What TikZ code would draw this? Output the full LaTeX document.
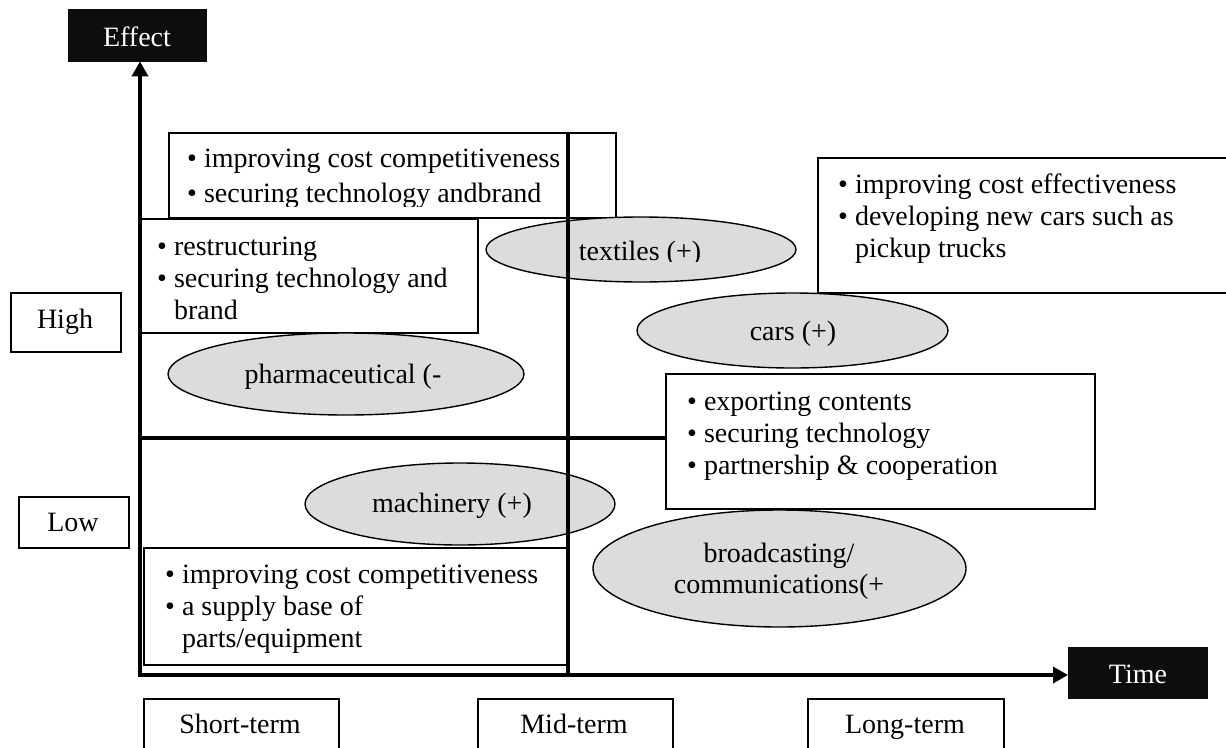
\documentclass[tikz,border=0pt]{standalone}
\usepackage{fontspec}
\setmainfont{Liberation Serif}
\usetikzlibrary{shapes.geometric,arrows.meta}
\definecolor{blackish}{HTML}{0D0D0D}
\definecolor{ellgray}{HTML}{DCDCDC}
\newcommand\blist[1]{\begin{tabular}[t]{@{}l@{\hspace{7pt}}l@{}}#1\end{tabular}}
\begin{document}
\begin{tikzpicture}[x=1pt,y=-1pt,
  font=\fontsize{28}{32}\selectfont,
  box/.style={draw, line width=1.6pt, fill=white, inner sep=0pt, anchor=north west},
  blk/.style={fill=blackish, draw=blackish, inner sep=0pt, anchor=north west},
  ell/.style={ellipse, draw, line width=1.4pt, fill=ellgray, inner sep=0pt},
  txt/.style={anchor=base west, inner sep=0pt},
  lbl/.style={anchor=base, inner sep=0pt},
  axisline/.style={line width=3.5pt, -{Triangle[length=15pt,width=16pt]}},
  bar/.style={line width=3.5pt}]
\useasboundingbox (0,0) rectangle (1226,747);

% --- axis end labels
\node[blk, minimum width=138, minimum height=52] (effect) at (68,9) {};
\node[lbl, text=white] at (137,46) {Effect};
\node[blk, minimum width=139, minimum height=51] (time) at (1068,647) {};
\node[lbl, text=white] at (1138,683) {Time};

% --- top box (text clipped)
\node[box, minimum width=447, minimum height=85] (topbox) at (168,132) {};
\begin{scope}
\clip (168,132) rectangle (566,206);
\node[txt] (toptext) at (187,167) {\blist{\textbullet & improving cost competitiveness\\[3pt] \textbullet & securing technology andbrand}};
\end{scope}

% --- restructuring box
\node[box, minimum width=337, minimum height=114] (restr) at (140,218) {};
\node[txt] at (157,255) {\blist{\textbullet & restructuring\\ \textbullet & securing technology and\\ & brand}};

% --- top-right box
\node[box, minimum width=420, minimum height=135] (trbox) at (817,157) {};
\node[txt] at (838,193) {\blist{\textbullet & improving cost effectiveness\\ \textbullet & developing new cars such as\\ & pickup trucks}};

% --- exporting box
\node[box, minimum width=429, minimum height=135] (expbox) at (665,373) {};
\node[txt] at (687,410) {\blist{\textbullet & exporting contents\\ \textbullet & securing technology\\ \textbullet & partnership \& cooperation}};

% --- bottom-left box
\node[box, minimum width=424, minimum height=117] (blbox) at (143,547) {};
\node[txt] at (165,583) {\blist{\textbullet & improving cost competitiveness\\ \textbullet & a supply base of\\ & parts/equipment}};

% --- High / Low
\node[box, minimum width=110, minimum height=59] (high) at (10,292) {};
\node[lbl] at (65,328) {High};
\node[box, minimum width=110, minimum height=51] (low) at (18,496) {};
\node[lbl] at (73,531) {Low};

% --- term boxes
\node[box, minimum width=195, minimum height=70] (short) at (143,698) {};
\node[lbl] at (240,733) {Short-term};
\node[box, minimum width=195, minimum height=70] (mid) at (477,698) {};
\node[lbl] at (574,733) {Mid-term};
\node[box, minimum width=196, minimum height=70] (long) at (807,698) {};
\node[lbl] at (905,733) {Long-term};

% --- ellipses
\node[ell, minimum width=310, minimum height=65] (textiles) at (641,249.5) {};
\begin{scope}
\clip (480,200) rectangle (800,261);
\node[lbl] at (640,260) {textiles (+)};
\end{scope}
\node[ell, minimum width=356, minimum height=82] (pharma) at (346,374) {};
\node[lbl] at (343,383) {pharmaceutical (-};
\node[ell, minimum width=311, minimum height=75] (cars) at (792.5,330.5) {};
\node[lbl] at (793,340) {cars (+)};
\node[ell, minimum width=310, minimum height=82] (mach) at (460,504) {};
\node[lbl] at (452,512) {machinery (+)};
\node[ell, minimum width=373, minimum height=117] (broad) at (779.5,568.5) {};
\node[lbl] at (779,562) {broadcasting/};
\node[lbl] at (779,593) {communications(+};

% --- axes and dividers
\coordinate (origin) at (140,675);
\coordinate (divtop) at (568,132);
\coordinate (divbot) at (568,675);
\coordinate (midl) at (140,438);
\draw[bar] (divtop) -- (divbot);
\draw[bar] (midl) -- (midl -| expbox.west);
\draw[axisline] ([yshift=-1.75pt]origin) -- (origin |- effect.south);
\draw[axisline] ([xshift=-1.75pt]origin) -- (origin -| time.west);
\end{tikzpicture}
\end{document}
